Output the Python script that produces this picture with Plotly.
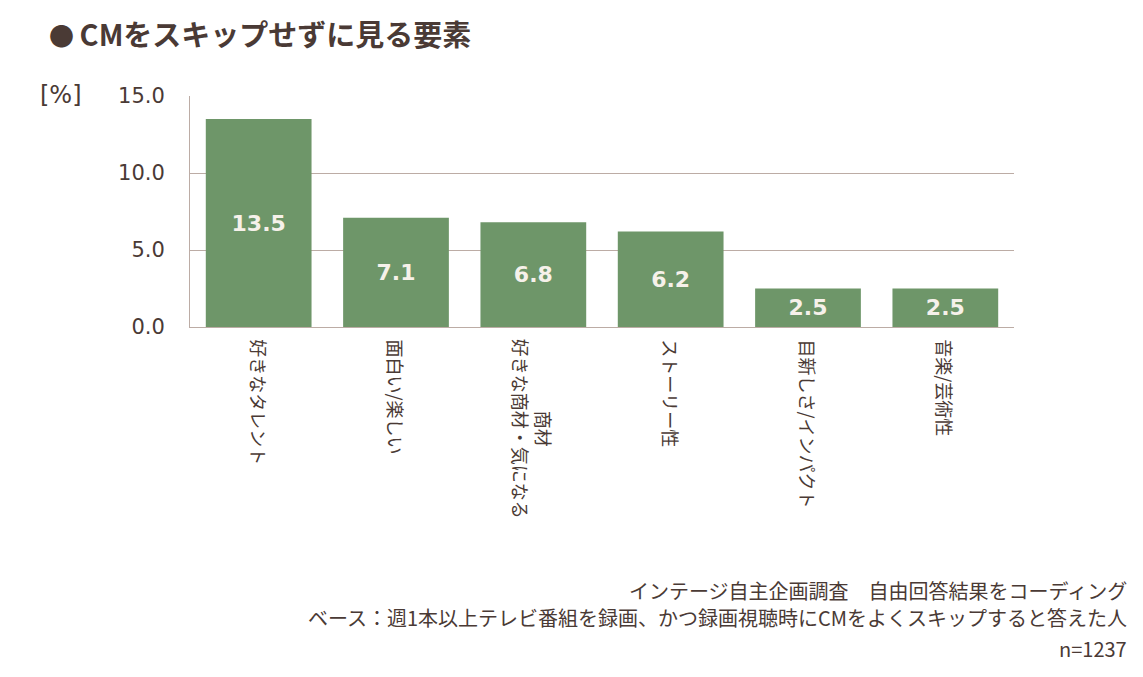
import plotly.graph_objects as go

categories = ["好きなタレント", "面白い/楽しい", "好きな商材・気になる商材", "ストーリー性", "目新しさ/インパクト", "音楽/芸術性"]
label_lines = [["好きなタレント"], ["面白い/楽しい"], ["好きな商材・気になる", "商材"], ["ストーリー性"], ["目新しさ/インパクト"], ["音楽/芸術性"]]
values = [13.5, 7.1, 6.8, 6.2, 2.5, 2.5]
y_ticks = [0, 5, 10, 15]
footer = ["インテージ自主企画調査　自由回答結果をコーディング",
          "ベース：週1本以上テレビ番組を録画、かつ録画視聴時にCMをよくスキップすると答えた人",
          "n=1237"]

TEXT = "#4a3a35"
GRID = "#bcaca5"
BAR = "#6e9669"
JP = "Noto Sans CJK JP, DejaVu Sans, sans-serif"
NUM = "DejaVu Sans, Noto Sans CJK JP, sans-serif"

W, H = 1143, 677
L, R, T, B = 190, 1014, 96, 327  # plot area in pixels


def px(x):
    return (x - L) / (R - L)


def py(y):
    return (B - y) / (B - T)


fig = go.Figure()
fig.add_trace(go.Bar(
    x=categories, y=values,
    marker=dict(color=BAR, line=dict(width=0)),
    text=[f"{v:.1f}" for v in values],
    textposition="inside", insidetextanchor="middle",
    textfont=dict(family=NUM, size=22, color="#f6f1ea", weight="bold"),
    textangle=0,
    width=0.77,
    hoverinfo="skip",
))

fig.update_layout(
    width=W, height=H,
    margin=dict(l=L, r=W - R, t=T, b=H - B),
    plot_bgcolor="white", paper_bgcolor="white",
    showlegend=False,
    font=dict(family=JP, color=TEXT),
    xaxis=dict(showticklabels=False, showline=True, linecolor=GRID, linewidth=1,
               showgrid=False, ticks="", zeroline=False),
    yaxis=dict(range=[0, 15], tickvals=y_ticks, tickformat=".1f",
               showgrid=True, gridcolor=GRID, gridwidth=1,
               showline=True, linecolor=GRID, linewidth=1,
               zeroline=False, ticks="", ticklabelstandoff=20,
               tickfont=dict(family=NUM, size=21, color=TEXT)),
)

# rotated category labels
for cat, lines in zip(categories, label_lines):
    txt = "<br>".join(reversed(lines))
    fig.add_annotation(x=cat, xref="x", y=py(337), yref="paper", yanchor="top", xanchor="center",
                       text=txt, textangle=90, showarrow=False, align="center",
                       font=dict(family=JP, size=18, color=TEXT))

fig.add_annotation(x=px(38), y=py(95), xref="paper", yref="paper", xanchor="left", yanchor="middle",
                   text="[%]", showarrow=False, font=dict(family=NUM, size=24, color=TEXT))

# title
fig.add_annotation(x=px(47), y=py(33), xref="paper", yref="paper", xanchor="left", yanchor="middle",
                   text="<span style='font-size:25px'>● </span><b>CMをスキップせずに見る要素</b>",
                   showarrow=False, font=dict(family=JP, size=29, color=TEXT))

# footer
for line, yc in zip(footer, [590, 617, 648]):
    fig.add_annotation(x=px(1129), y=py(yc), xref="paper", yref="paper", xanchor="right", yanchor="middle",
                       text=line, showarrow=False, align="right",
                       font=dict(family=JP, size=20, color=TEXT))

fig.write_html("out.html")
